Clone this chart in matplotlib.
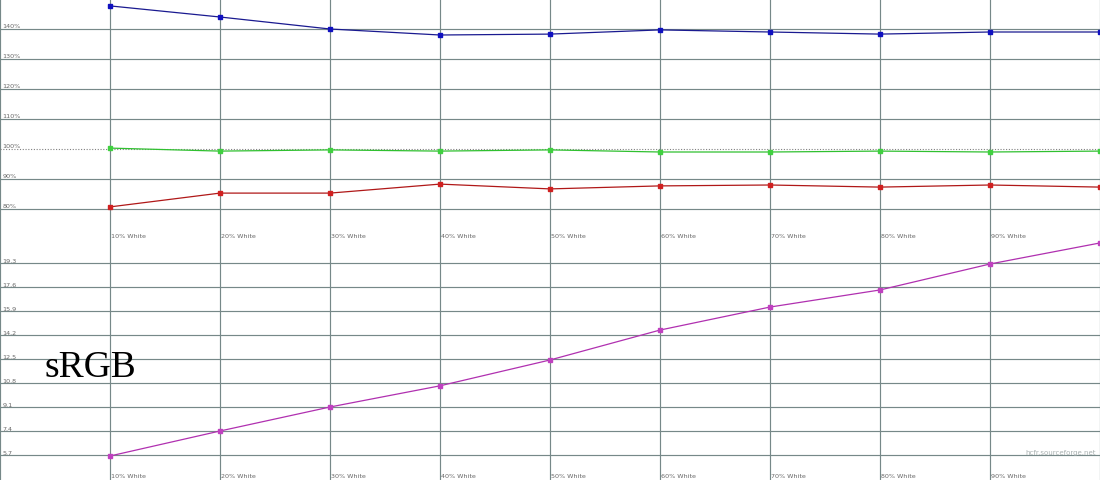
import matplotlib
matplotlib.use("Agg")
import matplotlib.pyplot as plt

# measurement steps
steps = ["10% White", "20% White", "30% White", "40% White", "50% White",
         "60% White", "70% White", "80% White", "90% White", "100% White"]

# RGB levels (%)
blue = [147.7, 144.0, 140.0, 138.0, 138.3, 139.7, 139.0, 138.3, 139.0, 139.0]
green = [100.3, 99.3, 99.7, 99.3, 99.7, 99.0, 99.0, 99.3, 99.0, 99.3]
red = [80.7, 85.3, 85.3, 88.3, 86.7, 87.7, 88.0, 87.3, 88.0, 87.3]

# luminance
lum = [5.63, 7.4, 9.1, 10.6, 12.43, 14.55, 16.18, 17.39, 19.23, 20.72]

pct_ticks = [80, 90, 100, 110, 120, 130, 140]
pct_labels = ["80%", "90%", "100%", "110%", "120%", "130%", "140%"]
lum_ticks = [5.7, 7.4, 9.1, 10.8, 12.5, 14.2, 15.9, 17.6, 19.3]
lum_labels = ["5.7", "7.4", "9.1", "10.8", "12.5", "14.2", "15.9", "17.6", "19.3"]

W, H = 1100, 481
fig = plt.figure(figsize=(W / 100, H / 100), dpi=100)
fig.patch.set_facecolor("white")

split = 245
ax1 = fig.add_axes([0, 1 - split / H, 1, split / H])
ax2 = fig.add_axes([0, 0, 1, (H - split) / H])

grid_col = "#768888"
lab_col = "#686868"
xs = list(range(1, len(steps) + 1))

for ax in (ax1, ax2):
    ax.set_xlim(0, 10)
    ax.set_xticks([])
    ax.set_yticks([])
    for s in ax.spines.values():
        s.set_visible(False)
    for x in range(0, 11):
        ax.axvline(x, color=grid_col, lw=0.85, zorder=1)

# top panel
ax1.set_ylim(150 - split / 3, 150)
for v, l in zip(pct_ticks, pct_labels):
    if v == 100:
        ax1.axhline(v, color="#808080", lw=0.8, ls=(0, (1, 1.5)), zorder=1)
    else:
        ax1.axhline(v, color=grid_col, lw=0.85, zorder=1)
    ax1.text(0.02, v + 0.4, l, fontsize=4.6, color=lab_col, va="bottom", ha="left")
# the last step sits on the right edge, its label falls outside the picture
for x, l in zip(xs[:-1], steps[:-1]):
    ax1.text(x + 0.01, 71, l, fontsize=4.6, color=lab_col, va="center", ha="left")

ax1.plot(xs, blue, color="#1a1a90", lw=0.9, marker="s", ms=2.8,
         mfc="#1010c0", mec="#1010c0", zorder=3, clip_on=False)
ax1.plot(xs, green, color="#30c030", lw=0.9, marker="s", ms=2.8,
         mfc="#40d040", mec="#40d040", zorder=3, clip_on=False)
ax1.plot(xs, red, color="#b01818", lw=0.9, marker="s", ms=2.8,
         mfc="#d02020", mec="#d02020", zorder=3, clip_on=False)

# bottom panel
k = 1.7 / 24
ax2.set_ylim(19.3 - (H - 264) * k, 19.3 + (264 - split) * k)
for v, l in zip(lum_ticks, lum_labels):
    ax2.axhline(v, color=grid_col, lw=0.85, zorder=1)
    ax2.text(0.02, v + 0.03, l, fontsize=4.6, color=lab_col, va="bottom", ha="left")
for x, l in zip(xs[:-1], steps[:-1]):
    ax2.text(x + 0.01, 19.3 - (477 - 264) * k, l, fontsize=4.6, color=lab_col,
             va="center", ha="left")

ax2.plot(xs, lum, color="#b030b0", lw=0.9, marker="s", ms=2.8,
         mfc="#c040c0", mec="#c040c0", zorder=3, clip_on=False)

ax2.text(45 / 110, 19.3 - (377 - 264) * k, "sRGB", fontsize=27,
         family="Liberation Serif", color="black", va="baseline", ha="left")
ax2.text(1096 / 110, 19.3 - (453 - 264) * k, "hcfr.sourceforge.net", fontsize=5,
         color="#a8b0b0", va="center", ha="right")

fig.savefig("out.png", dpi=100, facecolor="white")
